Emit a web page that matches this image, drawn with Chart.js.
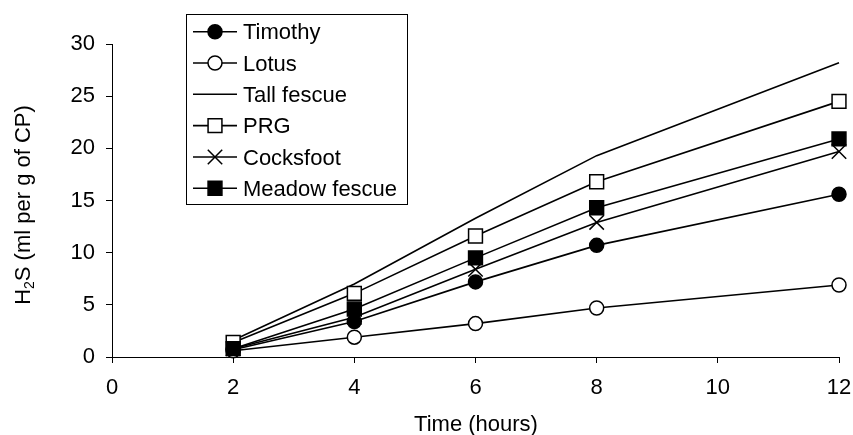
<!DOCTYPE html>
<html>
<head>
<meta charset="utf-8">
<script src="https://cdn.jsdelivr.net/npm/chart.js@4/dist/chart.umd.min.js"></script>
<style>
html,body{margin:0;padding:0;background:#fff;}
#wrap{width:853px;height:435px;}
</style>
</head>
<body>
<div id="wrap"><canvas id="c" width="853" height="435"></canvas></div>
<script>
const hours = [2, 4, 6, 8, 12];
const seriesNames = ["Timothy", "Lotus", "Tall fescue", "PRG", "Cocksfoot", "Meadow fescue"];
const timothy = [0.7, 3.4, 7.2, 10.7, 15.6];
const lotus = [0.6, 1.9, 3.2, 4.7, 6.9];
const tallFescue = [1.6, 7.0, 13.3, 19.3, 28.2];
const prg = [1.4, 6.1, 11.6, 16.8, 24.5];
const cocksfoot = [0.8, 3.8, 8.4, 12.9, 19.7];
const meadowFescue = [0.8, 4.6, 9.5, 14.3, 20.9];
const xTicks = [0, 2, 4, 6, 8, 10, 12];
const yTicks = [0, 5, 10, 15, 20, 25, 30];

const FONT = "'Liberation Sans', Arial, sans-serif";
const FS = 22;
const allValues = [timothy, lotus, tallFescue, prg, cocksfoot, meadowFescue];
const styles = [
  {pointStyle:'circle', radius:7, bg:'#000'},
  {pointStyle:'circle', radius:7, bg:'#fff'},
  {pointStyle:false, radius:0, bg:'#000'},
  {pointStyle:'rect', radius:9.8, bg:'#fff'},
  {pointStyle:'crossRot', radius:10.2, bg:'#000'},
  {pointStyle:'rect', radius:9.8, bg:'#000'}
];

const datasets = seriesNames.map((name, i) => ({
  label: name,
  data: hours.map((h, j) => ({x: h, y: allValues[i][j]})),
  borderColor: '#000',
  borderWidth: 1.6,
  backgroundColor: styles[i].bg,
  pointStyle: styles[i].pointStyle,
  pointRadius: styles[i].radius,
  pointHoverRadius: styles[i].radius,
  pointBackgroundColor: styles[i].bg,
  pointBorderColor: '#000',
  pointBorderWidth: 1.5,
  tension: 0,
  fill: false,
  clip: false,
  order: seriesNames.length - i
}));

const customDraw = {
  id: 'customDraw',
  afterDraw(chart) {
    const ctx = chart.ctx;
    ctx.save();
    // Legend box
    const bx = 186, by = 14, bw = 221, bh = 190;
    ctx.fillStyle = '#fff';
    ctx.fillRect(bx, by, bw, bh);
    ctx.strokeStyle = '#000';
    ctx.lineWidth = 1;
    ctx.strokeRect(bx + 0.5, by + 0.5, bw, bh);
    const rowY = [31.7, 63, 94.3, 125.6, 157, 188.3];
    ctx.font = FS + 'px ' + FONT;
    ctx.textBaseline = 'alphabetic';
    seriesNames.forEach((name, i) => {
      const y = rowY[i];
      ctx.strokeStyle = '#000';
      ctx.lineWidth = 1.6;
      ctx.beginPath();
      ctx.moveTo(193, y);
      ctx.lineTo(237, y);
      ctx.stroke();
      if (styles[i].pointStyle) {
        ctx.fillStyle = styles[i].bg;
        ctx.strokeStyle = '#000';
        ctx.lineWidth = 1.5;
        Chart.helpers.drawPoint(ctx, {pointStyle: styles[i].pointStyle, radius: styles[i].radius, rotation: 0, borderWidth: 1.5}, 215, y);
      }
      ctx.fillStyle = '#000';
      ctx.textAlign = 'left';
      ctx.font = FS + 'px ' + FONT;
      ctx.fillText(name, 243, y + 7.5);
    });
    // X title
    ctx.fillStyle = '#000';
    ctx.textAlign = 'center';
    ctx.textBaseline = 'alphabetic';
    ctx.font = FS + 'px ' + FONT;
    ctx.fillText('Time (hours)', 476, 431);
    // Y title with subscript
    ctx.translate(30, 205);
    ctx.rotate(-Math.PI / 2);
    const p1 = 'H', p2 = '2', p3 = 'S (ml per g of CP)';
    ctx.font = FS + 'px ' + FONT;
    const w1 = ctx.measureText(p1).width;
    const w3 = ctx.measureText(p3).width;
    ctx.font = '14px ' + FONT;
    const w2 = ctx.measureText(p2).width;
    const total = w1 + w2 + w3;
    let x0 = -total / 2;
    ctx.textAlign = 'left';
    ctx.font = FS + 'px ' + FONT;
    ctx.fillText(p1, x0, 0);
    ctx.font = '14px ' + FONT;
    ctx.fillText(p2, x0 + w1, 4);
    ctx.font = FS + 'px ' + FONT;
    ctx.fillText(p3, x0 + w1 + w2, 0);
    ctx.restore();
  }
};

new Chart(document.getElementById('c'), {
  type: 'line',
  data: { datasets },
  options: {
    responsive: false,
    animation: false,
    events: [],
    layout: { padding: { left: 0, right: 14, top: 44, bottom: 0 } },
    plugins: { legend: { display: false }, tooltip: { enabled: false } },
    scales: {
      x: {
        type: 'linear',
        min: 0, max: 12,
        afterBuildTicks(scale) { scale.ticks = xTicks.map(v => ({value: v})); },
        afterFit(scale) { scale.height = 78; scale.paddingLeft = 0; scale.paddingRight = 0; },
        ticks: { color: '#000', font: { family: FONT, size: FS }, padding: 12, maxRotation: 0, autoSkip: false },
        grid: { display: true, drawOnChartArea: false, drawTicks: true, tickLength: 6, color: '#000', lineWidth: 1 },
        border: { display: true, color: '#000', width: 1 }
      },
      y: {
        type: 'linear',
        min: 0, max: 30,
        afterBuildTicks(scale) { scale.ticks = yTicks.map(v => ({value: v})); },
        afterFit(scale) { scale.width = 112; scale.paddingTop = 0; scale.paddingBottom = 0; },
        ticks: { color: '#000', font: { family: FONT, size: FS }, padding: 11, autoSkip: false },
        grid: { display: true, drawOnChartArea: false, drawTicks: true, tickLength: 6, color: '#000', lineWidth: 1 },
        border: { display: true, color: '#000', width: 1 }
      }
    }
  },
  plugins: [customDraw]
});
</script>
</body>
</html>
